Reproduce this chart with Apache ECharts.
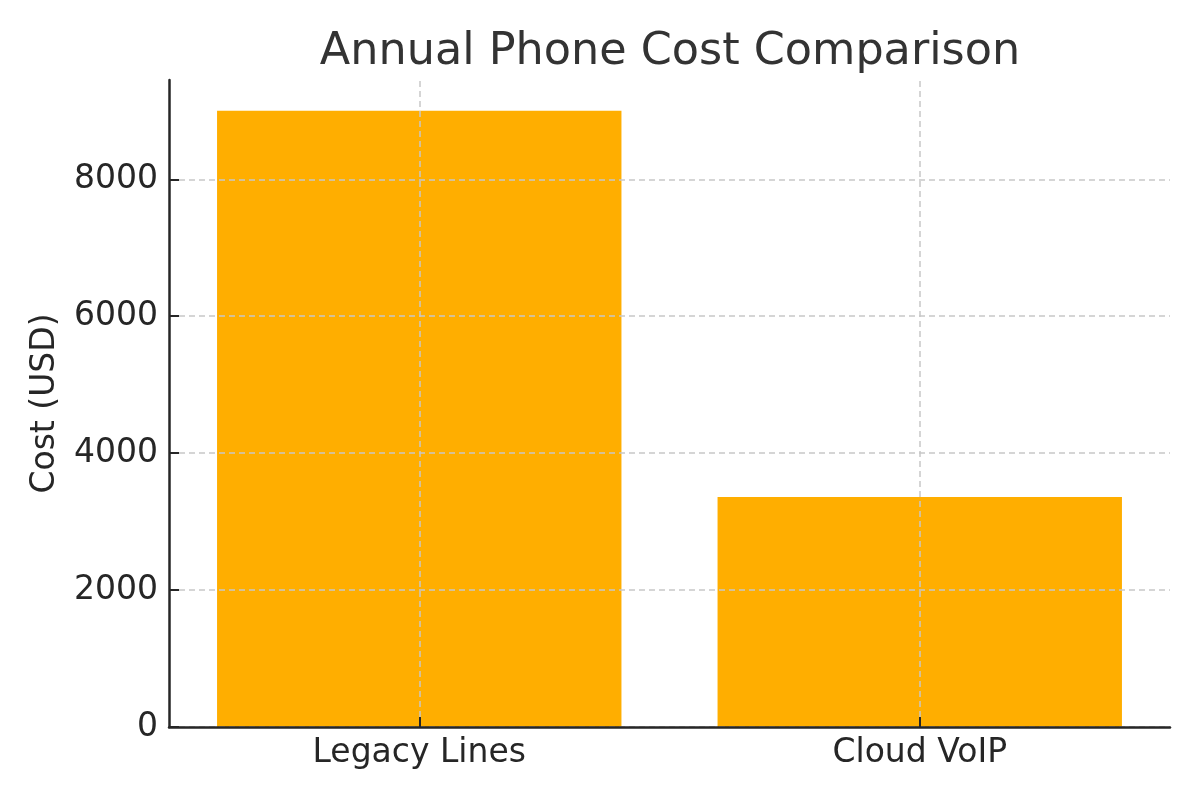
<!DOCTYPE html>
<html>
<head>
<meta charset="utf-8">
<script src="https://cdn.jsdelivr.net/npm/echarts@6/dist/echarts.min.js"></script>
<style>
  html, body { margin: 0; padding: 0; background: #fff; }
  #chart { width: 1200px; height: 800px; }
</style>
</head>
<body>
<div id="chart"></div>
<script>
const categories = ['Legacy Lines', 'Cloud VoIP'];
const costs = [9000, 3360];

const chart = echarts.init(document.getElementById('chart'));

const font = 'DejaVu Sans';
const gridStyle = { color: '#c8c8c8', type: [6, 4], width: 1.5 };

const option = {
    animation: false,
    title: {
        text: 'Annual Phone Cost Comparison',
        left: 665,
        textAlign: 'center',
        top: 25,
        textStyle: {
            fontFamily: font,
            fontSize: 44.5,
            fontWeight: 'normal',
            color: '#333333'
        }
    },
    grid: {
        left: 169,
        right: 30,
        top: 80,
        bottom: 73,
        containLabel: false
    },
    xAxis: {
        type: 'category',
        data: categories,
        z: 10,
        axisLine: { lineStyle: { color: '#262626', width: 2.5 } },
        axisTick: {
            show: true,
            alignWithLabel: true,
            inside: true,
            length: 10,
            lineStyle: { color: '#262626', width: 2 }
        },
        axisLabel: {
            margin: 10,
            fontFamily: font,
            fontSize: 33,
            color: '#262626'
        },
        splitLine: { show: false }
    },
    yAxis: {
        type: 'value',
        min: 0,
        max: 9450,
        interval: 2000,
        z: 10,
        name: 'Cost (USD)',
        nameLocation: 'middle',
        nameGap: 107,
        nameTextStyle: {
            fontFamily: font,
            fontSize: 33,
            color: '#262626'
        },
        axisLine: { show: true, lineStyle: { color: '#262626', width: 2.5 } },
        axisTick: {
            show: true,
            inside: true,
            length: 10,
            lineStyle: { color: '#262626', width: 2 }
        },
        axisLabel: {
            margin: 11,
            fontFamily: font,
            fontSize: 33,
            color: '#262626',
            showMaxLabel: false,
            formatter: function (v) { return String(v); }
        },
        splitLine: {
            show: true,
            showMaxLine: false,
            lineStyle: gridStyle
        }
    },
    series: [{
        type: 'bar',
        data: costs,
        barWidth: '80.8%',
        itemStyle: { color: '#FFAE00' },
        markLine: {
            silent: true,
            symbol: 'none',
            z: 5,
            label: { show: false },
            lineStyle: gridStyle,
            emphasis: { disabled: true },
            data: categories.map(function (c) { return [
                { coord: [c, 0] },
                { coord: [c, 9450] }
            ]; })
        }
    }]
};

chart.setOption(option);
</script>
</body>
</html>
